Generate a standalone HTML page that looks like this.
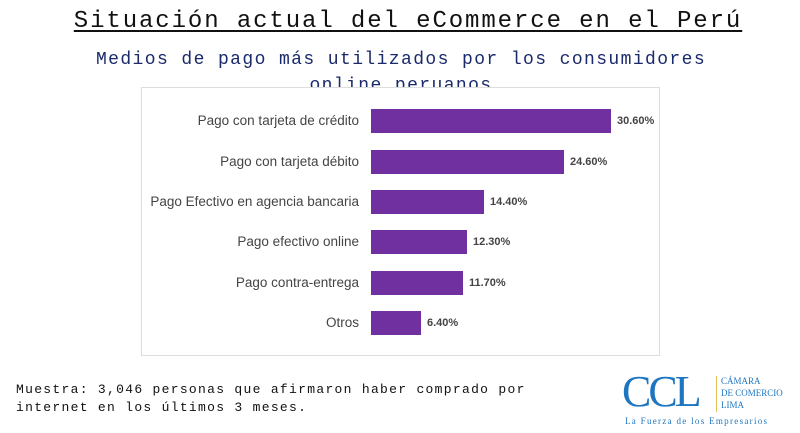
<!DOCTYPE html>
<html><head><meta charset="utf-8"><style>
body{margin:0;width:800px;height:433px;background:#fff;position:relative;overflow:hidden;font-family:"Liberation Sans",sans-serif}
.t{position:absolute;left:0;width:816px;text-align:center;top:8px;font-family:"Liberation Mono",monospace;font-size:24px;color:#111;text-decoration:underline;text-underline-offset:3px;letter-spacing:1.9px}
.s{position:absolute;left:0;width:802px;text-align:center;top:47px;font-family:"Liberation Mono",monospace;font-size:18px;color:#1a2a6a;line-height:26px;letter-spacing:1.4px}
.box{position:absolute;left:141px;top:87px;width:517px;height:267px;background:#fff;border:1px solid #ddd;z-index:2}
.r{position:absolute;left:0;width:517px;height:24px}
.l{position:absolute;right:300px;width:240px;text-align:right;font-size:13.5px;color:#444;line-height:24px;white-space:nowrap}
.b{position:absolute;left:229px;height:24px;background:#7030a0}
.v{position:absolute;font-size:11px;font-weight:bold;color:#444;line-height:24px}
.m{position:absolute;left:16px;top:381px;font-family:"Liberation Mono",monospace;font-size:13px;color:#111;line-height:18px;letter-spacing:1.3px}
</style></head><body>
<div class="t">Situación actual del eCommerce en el Perú</div>
<div class="s">Medios de pago más utilizados por los consumidores<br>online peruanos</div>
<div class="box">
<div class="r" style="top:21px"><div class="l">Pago con tarjeta de crédito</div><div class="b" style="width:240px"></div><div class="v" style="left:475px">30.60%</div></div>
<div class="r" style="top:62px"><div class="l">Pago con tarjeta débito</div><div class="b" style="width:193px"></div><div class="v" style="left:428px">24.60%</div></div>
<div class="r" style="top:102px"><div class="l">Pago Efectivo en agencia bancaria</div><div class="b" style="width:113px"></div><div class="v" style="left:348px">14.40%</div></div>
<div class="r" style="top:142px"><div class="l">Pago efectivo online</div><div class="b" style="width:96px"></div><div class="v" style="left:331px">12.30%</div></div>
<div class="r" style="top:183px"><div class="l">Pago contra-entrega</div><div class="b" style="width:92px"></div><div class="v" style="left:327px">11.70%</div></div>
<div class="r" style="top:223px"><div class="l">Otros</div><div class="b" style="width:50px"></div><div class="v" style="left:285px">6.40%</div></div>
</div>
<div class="m">Muestra: 3,046 personas que afirmaron haber comprado por<br>internet en los últimos 3 meses.</div>
<div style="position:absolute;left:622px;top:369px;font-family:'Liberation Serif',serif;font-size:44px;color:#1f76c0;letter-spacing:-3px;line-height:46px">CCL</div>
<div style="position:absolute;left:716px;top:376px;width:1px;height:36px;background:#e0c060"></div>
<div style="position:absolute;left:721px;top:375px;font-family:'Liberation Serif',serif;font-size:9px;color:#1f76c0;line-height:12px">CÁMARA<br>DE COMERCIO<br>LIMA</div>
<div style="position:absolute;left:625px;top:416px;font-family:'Liberation Serif',serif;font-size:9px;color:#1f76c0;letter-spacing:1.3px">La Fuerza de los Empresarios</div>
</body></html>
